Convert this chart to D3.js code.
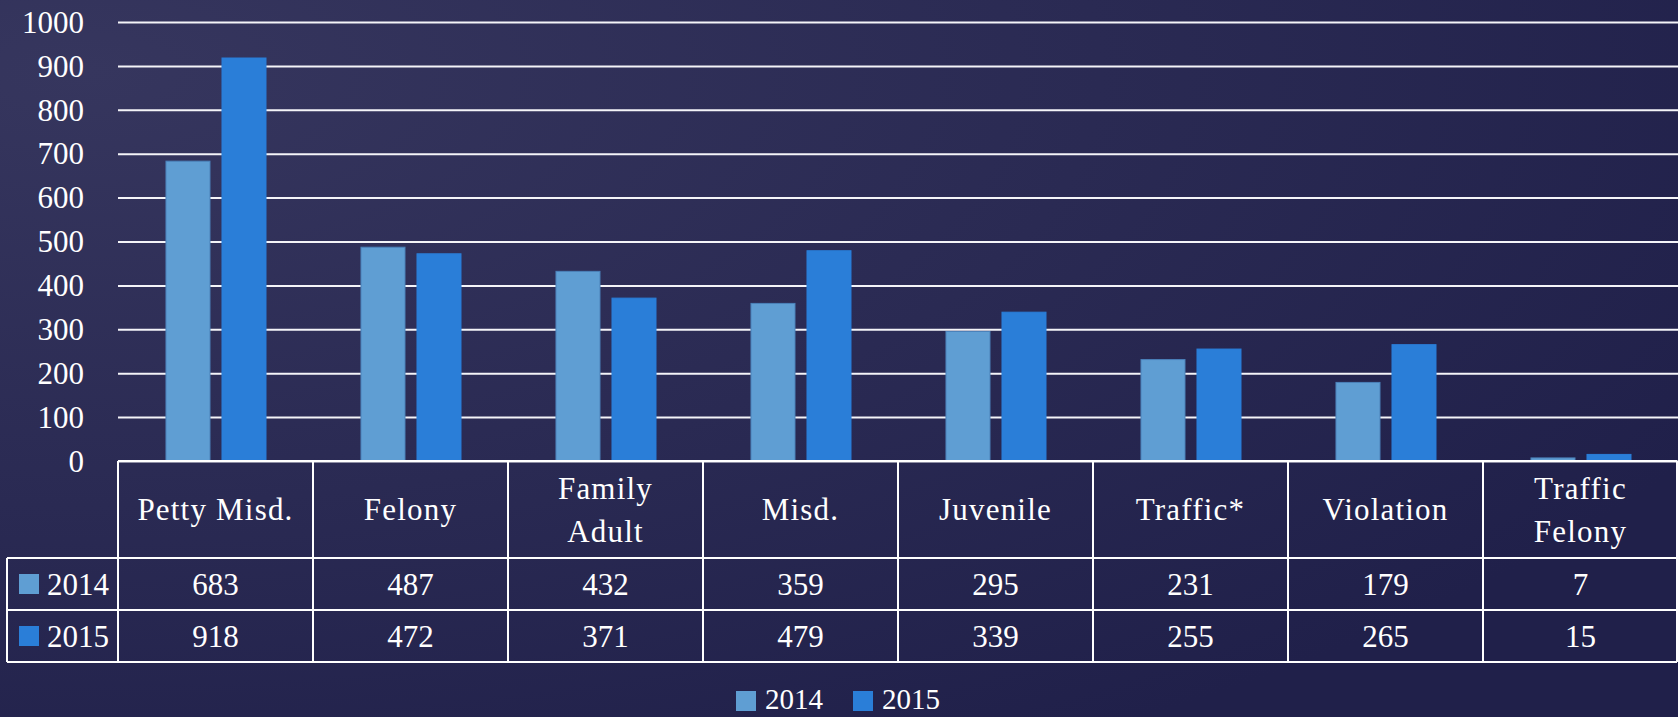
<!DOCTYPE html>
<html>
<head>
<meta charset="utf-8">
<script src="https://cdn.jsdelivr.net/npm/d3@7"></script>
<style>
  html, body { margin: 0; padding: 0; background: #2a2a52; }
  svg { display: block; }
  text { font-family: "Liberation Serif", "DejaVu Serif", serif; fill: #ffffff; }
</style>
</head>
<body>
<svg id="chart" width="1678" height="717"></svg>
<script>
const categories = ["Petty Misd.", "Felony", "Family Adult", "Misd.", "Juvenile", "Traffic*", "Violation", "Traffic Felony"];
const categoryLines = [["Petty Misd."], ["Felony"], ["Family", "Adult"], ["Misd."], ["Juvenile"], ["Traffic*"], ["Violation"], ["Traffic", "Felony"]];
const seriesNames = ["2014", "2015"];
const values2014 = [683, 487, 432, 359, 295, 231, 179, 7];
const values2015 = [918, 472, 371, 479, 339, 255, 265, 15];
const yTicks = [0, 100, 200, 300, 400, 500, 600, 700, 800, 900, 1000];
const seriesColors = ["#5f9ed3", "#2a7ed8"];
const seriesStroke = ["#4b82ba", "#2a7ed8"];

const seriesValues = [values2014, values2015];
const W = 1678, H = 717;
const FONT = "\"Liberation Serif\", \"DejaVu Serif\", serif";
const svg = d3.select("#chart");

// background
const defs = svg.append("defs");
const rg = defs.append("radialGradient").attr("id", "bg").attr("cx", "0.05").attr("cy", "0.1").attr("r", "1.1");
rg.append("stop").attr("offset", "0").attr("stop-color", "#36365e");
rg.append("stop").attr("offset", "0.55").attr("stop-color", "#2a2a53");
rg.append("stop").attr("offset", "1").attr("stop-color", "#20204a");
svg.append("rect").attr("width", W).attr("height", H).attr("fill", "url(#bg)");

const plotLeft = 118, plotRight = 1678, y0 = 461, y1000 = 22;
const x = d3.scaleBand().domain(categories).range([plotLeft, plotRight]).paddingInner(0).paddingOuter(0);
const bw = x.bandwidth();
const xs = d3.scaleBand().domain(seriesNames).range([bw * 0.246, bw * 0.759]).paddingInner(0.214).paddingOuter(0);
const y = d3.scaleLinear().domain([0, 1000]).range([y0, y1000]);

// gridlines
const yAxis = d3.axisLeft(y).tickValues(yTicks).tickSize(-(plotRight - plotLeft)).tickPadding(34).tickFormat(d3.format("d"));
const gAxis = svg.append("g").attr("transform", `translate(${plotLeft},0)`).call(yAxis);
gAxis.select(".domain").remove();
gAxis.selectAll(".tick line").attr("stroke", "#f4f4f8").attr("stroke-width", 2);
gAxis.selectAll(".tick text").attr("font-size", 31).attr("fill", "#ffffff")
  .attr("font-family", FONT)
  .attr("dy", "0.33em");

// bars
const gBars = svg.append("g");
seriesNames.forEach((s, si) => {
  gBars.selectAll(".bar" + si)
    .data(categories.map((c, i) => ({ c, v: seriesValues[si][i] })))
    .enter().append("rect")
    .attr("x", d => x(d.c) + xs(s))
    .attr("width", xs.bandwidth())
    .attr("y", d => y(d.v))
    .attr("height", d => y0 - y(d.v))
    .attr("fill", seriesColors[si])
    .attr("stroke", seriesStroke[si])
    .attr("stroke-width", 1);
});

// data table
const headTop = 461, headBot = 558, row1Bot = 610, row2Bot = 662, legendColLeft = 7;
const rowsY = [headBot, row1Bot, row2Bot];
const gT = svg.append("g");
const lineAttr = sel => sel.attr("stroke", "#ffffff").attr("stroke-width", 2);
lineAttr(gT.append("line").attr("x1", plotLeft).attr("x2", plotRight - 1).attr("y1", headTop).attr("y2", headTop));
rowsY.forEach(yy => lineAttr(gT.append("line").attr("x1", legendColLeft).attr("x2", plotRight - 1).attr("y1", yy).attr("y2", yy)));
categories.forEach(c => lineAttr(gT.append("line").attr("x1", x(c)).attr("x2", x(c)).attr("y1", headTop).attr("y2", row2Bot)));
lineAttr(gT.append("line").attr("x1", plotRight - 1).attr("x2", plotRight - 1).attr("y1", headTop).attr("y2", row2Bot));
lineAttr(gT.append("line").attr("x1", legendColLeft).attr("x2", legendColLeft).attr("y1", headBot).attr("y2", row2Bot));

// header labels
categories.forEach((c, i) => {
  const lines = categoryLines[i];
  const cx = x(c) + bw / 2;
  const cy = (headTop + headBot) / 2;
  const lh = 43;
  const t = gT.append("text").attr("text-anchor", "middle").attr("font-size", 31).attr("letter-spacing", 1.2);
  lines.forEach((ln, li) => {
    t.append("tspan").attr("x", cx)
      .attr("y", cy + (li - (lines.length - 1) / 2) * lh)
      .attr("dy", "0.35em").text(ln);
  });
});

// rows
seriesNames.forEach((s, si) => {
  const top = rowsY[si], bot = rowsY[si + 1];
  const cy = (top + bot) / 2;
  gT.append("rect").attr("x", 19).attr("y", cy - 10).attr("width", 20).attr("height", 20).attr("fill", seriesColors[si]);
  gT.append("text").attr("x", 47).attr("y", cy).attr("dy", "0.35em").attr("font-size", 31).text(s);
  categories.forEach((c, i) => {
    gT.append("text").attr("x", x(c) + bw / 2).attr("y", cy).attr("dy", "0.35em")
      .attr("text-anchor", "middle").attr("font-size", 31).text(seriesValues[si][i]);
  });
});

// bottom legend
const legX = [736, 853];
seriesNames.forEach((s, si) => {
  svg.append("rect").attr("x", legX[si]).attr("y", 691).attr("width", 20).attr("height", 20).attr("fill", seriesColors[si]);
  svg.append("text").attr("x", legX[si] + 29).attr("y", 709).attr("font-size", 29).text(s);
});
</script>
</body>
</html>
